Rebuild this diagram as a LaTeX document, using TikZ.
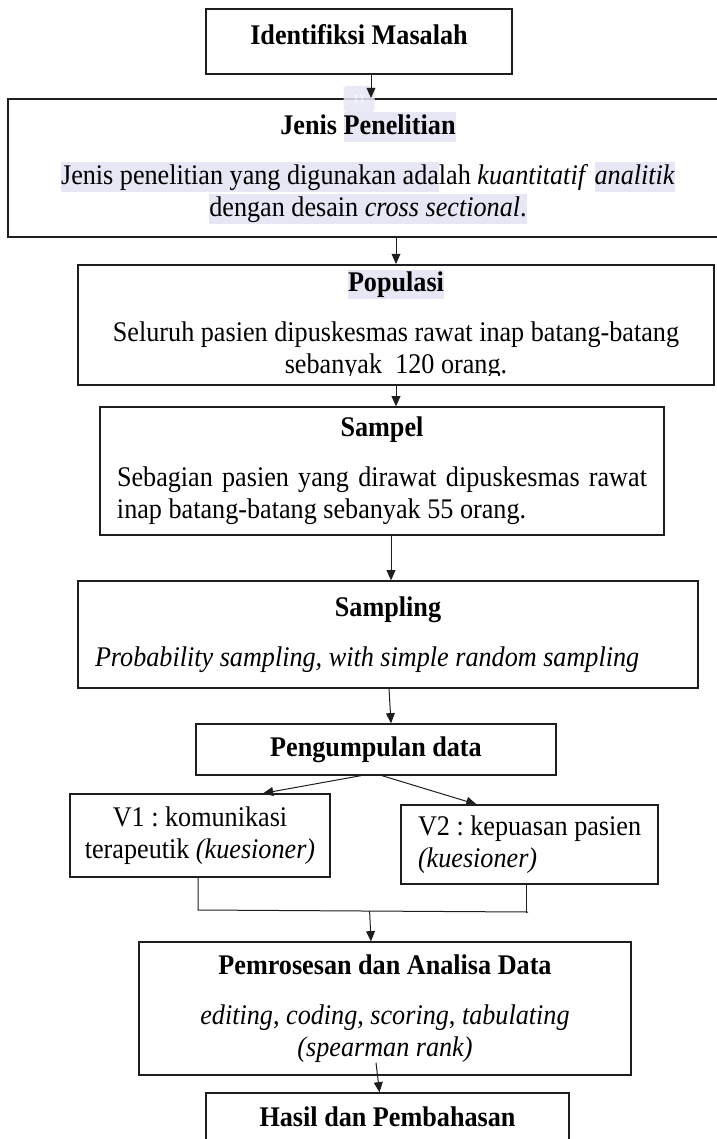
\documentclass[tikz,border=0pt]{standalone}
\usepackage{fontspec}
\setmainfont{Liberation Serif}[FakeStretch=0.92]
\usepackage{xcolor}
\usetikzlibrary{arrows.meta,calc}

\definecolor{hlcol}{HTML}{E6E6F4}
\definecolor{framecol}{HTML}{1E1E1E}
\setlength{\fboxsep}{0pt}
\newcommand{\hilite}[1]{\colorbox{hlcol}{\rule[-3.4pt]{0pt}{13.2pt}#1}}

\tikzset{
  stepbox/.style={draw=framecol, line width=0.6pt, align=center, inner sep=0pt,
    font=\fontsize{12.8pt}{14.4pt}\selectfont\frenchspacing},
  boxsize/.style 2 args={minimum width=#1*0.45pt, minimum height=#2*0.45pt},
  arr/.style={-{Triangle[length=4.6pt,width=4pt]}, line width=0.45pt, draw=framecol},
  joinline/.style={line width=0.45pt, draw=framecol},
}

\begin{document}
\begin{tikzpicture}[x=0.45pt, y=-0.45pt]
  \useasboundingbox (0,0) rectangle (717,1139);
  \clip (0,0) rectangle (717,1139);

  % Boxes
  \node[stepbox, boxsize={306}{65}, text depth=6pt] (ident) at (359,41.5) {\textbf{Identifiksi Masalah}};
  \node[stepbox, line width=0.9pt, boxsize={720}{138}] (jenis) at (368,168)
    {\textbf{Jenis \hilite{Penelitian}}\\[8pt]
     \hilite{Jenis penelitian yang digunakan ada}lah \textit{kuantitatif} \hilite{\textit{analitik}}\\
     \hilite{dengan desain \textit{cross sectional}.}};
  \node[fill=hlcol, opacity=0.85, rounded corners=1.5pt, text=white, inner sep=0pt,
    font=\fontsize{5pt}{6pt}\selectfont\sffamily, boxsize={31}{26}] (note) at (359,99) {11};
  \node[stepbox, line width=0.9pt, boxsize={636}{120}] (pop) at (396,325)
    {\hilite{\textbf{Populasi}}\\[8pt]
     Seluruh pasien dipuskesmas rawat inap batang-batang\\
     sebanyak\ \ 120 orang.};
  \fill[white] ($(pop.south west)+(2.6,-10)$) rectangle ($(pop.south east)+(-2.6,-2.4)$);
  \node[stepbox, boxsize={564}{128}] (sampel) at (382,471)
    {\textbf{Sampel}\\[8pt]
     \makebox[238.5pt][s]{Sebagian pasien yang dirawat dipuskesmas rawat}\\
     \makebox[238.5pt][l]{inap batang-batang sebanyak 55 orang.}};
  \node[stepbox, boxsize={620}{107}] (sampling) at (388,634.5)
    {\textbf{Sampling}\\[8pt]
     \makebox[263.7pt][l]{\textit{Probability sampling, with simple random sampling}}};
  \node[stepbox, boxsize={360}{51}] (kumpul) at (376,749.5) {\textbf{Pengumpulan data}};
  \node[stepbox, boxsize={260}{83}] (v1) at (200,835.5) {V1 : komunikasi\\ terapeutik \textit{(kuesioner)}};
  \node[stepbox, boxsize={257}{79}] (v2) at (529.5,844.5)
    {\makebox[100.35pt][l]{V2 : kepuasan pasien}\\ \makebox[100.35pt][l]{\textit{(kuesioner)}}};
  \node[stepbox, boxsize={492}{133}] (proc) at (385,1008.5)
    {\textbf{Pemrosesan dan Analisa Data}\\[8pt]
     \textit{editing}, \textit{coding}, \textit{scoring}, \textit{tabulating}\\
     \textit{(spearman rank)}};
  \node[stepbox, boxsize={363}{48}] (hasil) at (387.5,1117) {\textbf{Hasil dan Pembahasan}};

  % Connectors
  \draw[arr] ($(ident.south)+(12,0)$) coordinate (a) -- (a |- jenis.north);
  \draw[arr] (jenis.south -| pop.north) -- (pop.north);
  \draw[arr] (pop.south) -- (pop.south |- sampel.north);
  \draw[arr] ($(sampel.south)+(9,0)$) coordinate (a) -- (a |- sampling.north);
  \draw[arr] ($(sampling.south)+(1,0)$) -- ($(kumpul.north)+(15,0)$);
  \draw[arr] ($(kumpul.south)+(-15,0)$) -- ($(v1.north)+(63,0)$);
  \draw[arr] ($(kumpul.south)+(6,0)$) -- ($(v2.north)+(-53,0)$);
  % join of V1 and V2
  \coordinate (jl) at (198,910);
  \coordinate (jr) at (528,912);
  \draw[joinline] (v1.south -| jl) -- (jl) -- (jr);
  \draw[joinline] ($(v2.south)+(-3,0)$) -- ++(0,28);
  \draw[arr] ($(jl)!0.52!(jr)$) -- ($(proc.north)+(-14,0)$);
  \draw[arr] ($(proc.south)+(-9,-13)$) -- ($(hasil.north)+(-8,0)$);
\end{tikzpicture}
\end{document}
